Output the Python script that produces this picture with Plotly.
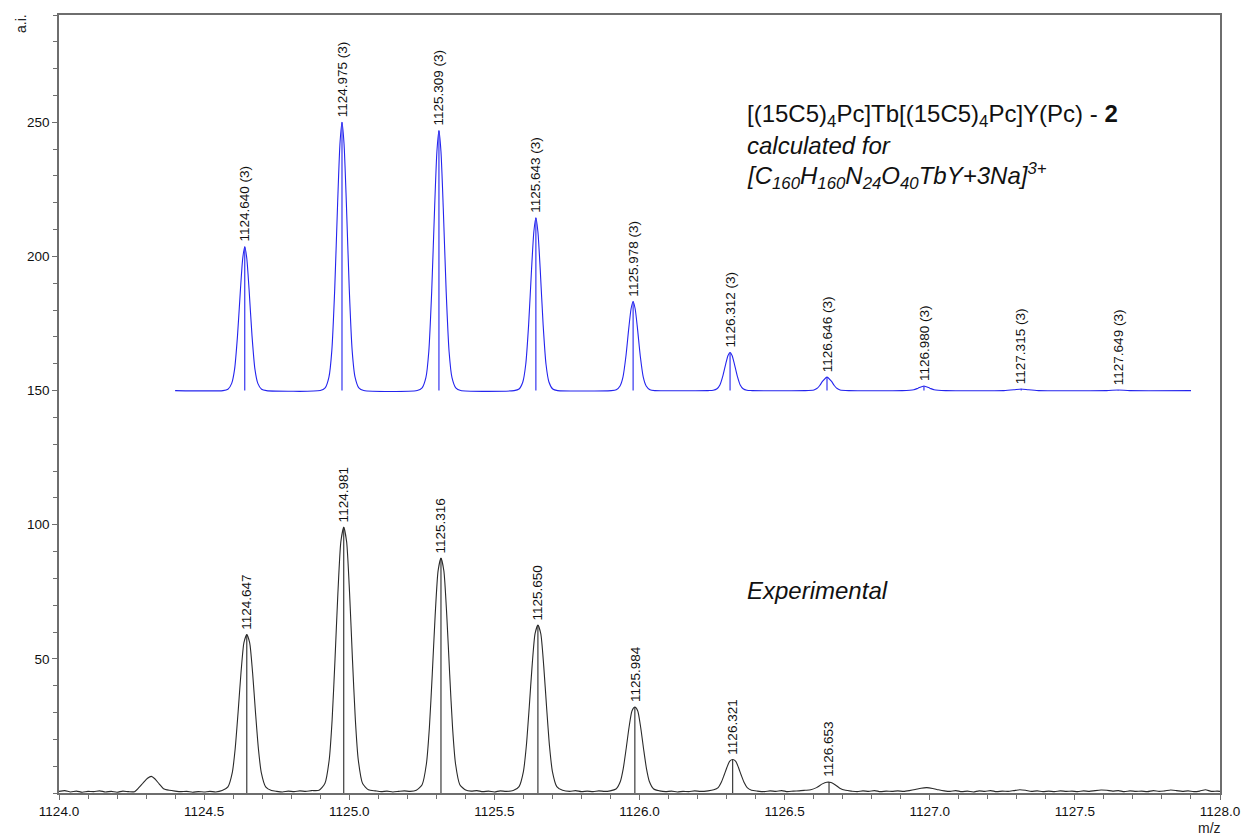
import plotly.graph_objects as go

# ---- calculated isotope pattern (offset by +150 a.i.) ----
calc_x = [
    1124.400, 1124.565, 1124.582, 1124.595, 1124.605, 1124.615, 1124.625, 1124.633, 1124.640,
    1124.647, 1124.655, 1124.665, 1124.675, 1124.685, 1124.698, 1124.715,
    1124.900, 1124.917, 1124.930, 1124.940, 1124.950, 1124.960, 1124.968, 1124.975,
    1124.982, 1124.990, 1125.000, 1125.010, 1125.020, 1125.033, 1125.050,
    1125.234, 1125.251, 1125.264, 1125.274, 1125.284, 1125.294, 1125.302, 1125.309,
    1125.316, 1125.324, 1125.334, 1125.344, 1125.354, 1125.367, 1125.384,
    1125.568, 1125.585, 1125.598, 1125.608, 1125.618, 1125.628, 1125.636, 1125.643,
    1125.650, 1125.658, 1125.668, 1125.678, 1125.688, 1125.701, 1125.718,
    1125.903, 1125.920, 1125.933, 1125.943, 1125.953, 1125.963, 1125.971, 1125.978,
    1125.985, 1125.993, 1126.003, 1126.013, 1126.023, 1126.036, 1126.053,
    1126.237, 1126.254, 1126.267, 1126.277, 1126.287, 1126.297, 1126.305, 1126.312,
    1126.319, 1126.327, 1126.337, 1126.347, 1126.357, 1126.370, 1126.387,
    1126.571, 1126.601, 1126.611, 1126.621, 1126.631, 1126.646,
    1126.661, 1126.671, 1126.681, 1126.691, 1126.721,
    1126.905, 1126.945, 1126.960, 1126.980, 1127.000, 1127.015, 1127.055,
    1127.255, 1127.290, 1127.315, 1127.340, 1127.375,
    1127.609, 1127.649, 1127.689, 1127.900,
]
calc_y = [
    150.0, 150.0, 150.5, 152.7, 158.0, 170.4, 187.5, 199.3, 203.6,
    199.3, 187.5, 170.4, 158.0, 152.7, 150.5, 150.0,
    150.0, 151.0, 155.0, 165.0, 188.0, 220.0, 242.0, 250.0,
    242.0, 220.0, 188.0, 165.0, 155.0, 151.0, 150.0,
    150.0, 151.0, 154.8, 164.5, 186.8, 217.8, 239.1, 246.9,
    239.1, 217.8, 186.8, 164.5, 154.8, 151.0, 150.0,
    150.0, 150.6, 153.2, 159.7, 174.5, 195.1, 209.2, 214.4,
    209.2, 195.1, 174.5, 159.7, 153.2, 150.6, 150.0,
    150.0, 150.3, 151.7, 155.0, 162.6, 173.2, 180.5, 183.2,
    180.5, 173.2, 162.6, 155.0, 151.7, 150.3, 150.0,
    150.0, 150.1, 150.7, 152.1, 155.4, 159.9, 163.1, 164.2,
    163.1, 159.9, 155.4, 152.1, 150.7, 150.1, 150.0,
    150.0, 150.25, 150.75, 151.9, 153.5, 155.0,
    153.5, 151.9, 150.75, 150.25, 150.0,
    150.0, 150.3, 150.9, 151.7, 150.9, 150.3, 150.0,
    150.0, 150.3, 150.6, 150.3, 150.0,
    150.0, 150.2, 150.0, 150.0,
]

# centroid list of the calculated pattern
calc_mz = [1124.640, 1124.975, 1125.309, 1125.643, 1125.978,
           1126.312, 1126.646, 1126.980, 1127.315, 1127.649]
calc_top = [203.6, 250.0, 246.9, 214.4, 183.2, 164.2, 155.0, 151.7, 150.6, 150.2]
calc_base = 150.0
calc_labels = ["1124.640 (3)", "1124.975 (3)", "1125.309 (3)", "1125.643 (3)",
               "1125.978 (3)", "1126.312 (3)", "1126.646 (3)", "1126.980 (3)",
               "1127.315 (3)", "1127.649 (3)"]

# ---- experimental profile ----
exp_x = [
    1124.00, 1124.02, 1124.04, 1124.06, 1124.08, 1124.10, 1124.12, 1124.14, 1124.16,
    1124.18, 1124.20, 1124.22, 1124.24,
    1124.26, 1124.275, 1124.29, 1124.305, 1124.318, 1124.33, 1124.345, 1124.36, 1124.38,
    1124.40, 1124.42, 1124.44, 1124.46, 1124.48, 1124.50, 1124.52, 1124.54,
    1124.562, 1124.582, 1124.597, 1124.607, 1124.617, 1124.627, 1124.637, 1124.647,
    1124.657, 1124.667, 1124.677, 1124.687, 1124.697, 1124.712, 1124.732,
    1124.75, 1124.77, 1124.79, 1124.81, 1124.83, 1124.85, 1124.87,
    1124.896, 1124.916, 1124.931, 1124.941, 1124.951, 1124.961, 1124.971, 1124.981,
    1124.991, 1125.001, 1125.011, 1125.021, 1125.031, 1125.046, 1125.066,
    1125.09, 1125.11, 1125.13, 1125.15, 1125.17, 1125.19, 1125.21,
    1125.231, 1125.251, 1125.266, 1125.276, 1125.286, 1125.296, 1125.306, 1125.316,
    1125.326, 1125.336, 1125.346, 1125.356, 1125.366, 1125.381, 1125.401,
    1125.42, 1125.44, 1125.46, 1125.48, 1125.50, 1125.52, 1125.54,
    1125.565, 1125.585, 1125.600, 1125.610, 1125.620, 1125.630, 1125.640, 1125.650,
    1125.660, 1125.670, 1125.680, 1125.690, 1125.700, 1125.715, 1125.735,
    1125.76, 1125.78, 1125.80, 1125.82, 1125.84, 1125.86, 1125.88,
    1125.899, 1125.919, 1125.934, 1125.944, 1125.954, 1125.964, 1125.974, 1125.984,
    1125.994, 1126.004, 1126.014, 1126.024, 1126.034, 1126.049, 1126.069,
    1126.09, 1126.11, 1126.13, 1126.15, 1126.17, 1126.19, 1126.21,
    1126.236, 1126.256, 1126.271, 1126.281, 1126.291, 1126.301, 1126.311, 1126.321,
    1126.331, 1126.341, 1126.351, 1126.361, 1126.371, 1126.386, 1126.406,
    1126.43, 1126.45, 1126.47, 1126.49, 1126.51, 1126.53, 1126.55, 1126.57,
    1126.59, 1126.61, 1126.63, 1126.645, 1126.66, 1126.675, 1126.69, 1126.71, 1126.73,
    1126.75, 1126.77, 1126.79, 1126.81, 1126.83, 1126.85, 1126.87, 1126.89, 1126.91, 1126.93,
    1126.95, 1126.97, 1126.99, 1127.01, 1127.03, 1127.05,
    1127.07, 1127.09, 1127.11, 1127.13, 1127.15, 1127.17, 1127.19, 1127.21, 1127.23,
    1127.25, 1127.27, 1127.29, 1127.31, 1127.33, 1127.35, 1127.37, 1127.39, 1127.41,
    1127.43, 1127.45, 1127.47, 1127.49, 1127.51, 1127.53, 1127.55, 1127.57, 1127.59,
    1127.61, 1127.63, 1127.65, 1127.67, 1127.69, 1127.71, 1127.73, 1127.75, 1127.77,
    1127.79, 1127.81, 1127.83, 1127.85, 1127.87, 1127.89, 1127.91, 1127.93, 1127.95,
    1127.97, 1127.99, 1128.00,
]
exp_y = [
    0.6, 0.9, 0.4, 0.7, 0.3, 0.6, 0.5, 0.8, 0.4,
    0.6, 0.3, 0.7, 0.5,
    0.5, 2.0, 3.8, 5.5, 6.2, 5.3, 3.4, 1.6, 1.0,
    0.7, 0.5, 0.6, 0.3, 0.5, 0.4, 0.6, 0.4,
    0.9, 2.3, 7.6, 16.5, 30.0, 44.8, 56.0, 59.1,
    56.0, 44.8, 30.0, 16.5, 7.6, 2.3, 0.9,
    0.6, 0.4, 0.7, 0.5, 0.8, 0.6, 0.9,
    1.0, 3.5, 12.4, 27.3, 50.0, 74.8, 93.6, 99.1,
    93.6, 74.8, 50.0, 27.3, 12.4, 3.5, 1.2,
    0.8, 0.5, 0.7, 0.4, 0.6, 0.8, 0.6,
    1.0, 3.1, 11.0, 24.2, 44.3, 66.2, 82.8, 87.6,
    82.8, 66.2, 44.3, 24.2, 11.0, 3.1, 1.1,
    0.7, 0.9, 0.5, 0.7, 0.4, 0.8, 0.6,
    0.9, 2.4, 8.0, 17.4, 31.8, 47.4, 59.3, 62.6,
    59.3, 47.4, 31.8, 17.4, 8.0, 2.4, 1.0,
    0.6, 0.9, 0.5, 0.7, 0.5, 0.8, 0.6,
    0.8, 1.5, 4.3, 9.1, 16.5, 24.5, 30.6, 32.0,
    30.6, 24.5, 16.5, 9.1, 4.3, 1.5, 0.8,
    0.5, 0.7, 0.4, 0.6, 0.5, 0.8, 0.6,
    0.8, 1.2, 2.0, 3.8, 6.5, 9.5, 11.9, 12.5,
    11.9, 9.5, 6.5, 3.8, 2.0, 1.0, 0.7,
    0.5, 0.8, 0.6, 0.9, 0.5, 0.7, 0.8, 1.0,
    1.2, 2.0, 3.4, 4.0, 3.9, 3.0, 1.8, 1.0, 0.7,
    0.5, 0.8, 0.6, 0.9, 0.5, 0.7, 0.6, 0.8, 0.6, 0.9,
    1.3, 1.8, 2.0, 1.7, 1.2, 0.8,
    0.6, 0.9, 0.5, 0.7, 0.4, 0.8, 0.6, 0.9, 0.5,
    0.7, 0.6, 0.9, 1.2, 1.0, 0.6, 0.8, 0.5, 0.7,
    0.5, 0.8, 0.6, 0.7, 0.5, 0.8, 0.6, 0.9, 1.1,
    1.0, 0.7, 0.9, 0.5, 0.8, 0.6, 0.7, 0.5, 0.9,
    0.6, 0.8, 1.1, 0.9, 0.6, 0.8, 0.5, 0.7, 1.2,
    0.6, 0.7, 0.6,
]

# experimental centroids
exp_mz = [1124.647, 1124.981, 1125.316, 1125.650, 1125.984, 1126.321, 1126.653]
exp_top = [59.1, 99.1, 87.6, 62.6, 32.0, 12.5, 4.0]
exp_labels = ["1124.647", "1124.981", "1125.316", "1125.650",
              "1125.984", "1126.321", "1126.653"]

x_range = [1124.0, 1128.0]
y_range = [0, 290]
x_ticks = [1124.0, 1124.5, 1125.0, 1125.5, 1126.0, 1126.5, 1127.0, 1127.5, 1128.0]
y_ticks = [50, 100, 150, 200, 250]

FONT = "Arial, Liberation Sans, sans-serif"
BLUE = "#2424ee"
DARK = "#2a2a2a"
AXIS = "#6e6e6e"


def stick_coords(xs, tops, base):
    sx, sy = [], []
    for x, t in zip(xs, tops):
        sx += [x, x, None]
        sy += [base, t, None]
    return sx, sy


fig = go.Figure()

fig.add_trace(go.Scatter(x=calc_x, y=calc_y, mode="lines",
                         line=dict(color=BLUE, width=1.1, shape="spline", smoothing=0.6),
                         hoverinfo="skip", showlegend=False))
sx, sy = stick_coords(calc_mz, calc_top, calc_base)
fig.add_trace(go.Scatter(x=sx, y=sy, mode="lines", line=dict(color=BLUE, width=1.1),
                         hoverinfo="skip", showlegend=False))

fig.add_trace(go.Scatter(x=exp_x, y=exp_y, mode="lines",
                         line=dict(color=DARK, width=1.1, shape="spline", smoothing=0.6),
                         hoverinfo="skip", showlegend=False))
sx, sy = stick_coords(exp_mz, exp_top, 0)
fig.add_trace(go.Scatter(x=sx, y=sy, mode="lines", line=dict(color=DARK, width=1.1),
                         hoverinfo="skip", showlegend=False))

label_font = dict(family=FONT, size=13.5, color="#111111")
annotations = []
for x, t, lab in zip(calc_mz, calc_top, calc_labels):
    annotations.append(dict(x=x, y=t, xref="x", yref="y", text=lab, showarrow=False,
                            textangle=-90, xanchor="center", yanchor="bottom", yshift=3,
                            font=label_font))
for x, t, lab in zip(exp_mz, exp_top, exp_labels):
    annotations.append(dict(x=x, y=t, xref="x", yref="y", text=lab, showarrow=False,
                            textangle=-90, xanchor="center", yanchor="bottom", yshift=3,
                            font=label_font))

title_font = dict(family=FONT, size=24, color="#111111")
annotations += [
    dict(x=1126.362, y=252.5, xref="x", yref="y", xanchor="left", yanchor="middle",
         showarrow=False, font=title_font,
         text="[(15C5)<sub>4</sub>Pc]Tb[(15C5)<sub>4</sub>Pc]Y(Pc) - <b>2</b>"),
    dict(x=1126.362, y=241.5, xref="x", yref="y", xanchor="left", yanchor="middle",
         showarrow=False, font=title_font, text="<i>calculated for</i>"),
    dict(x=1126.362, y=230.0, xref="x", yref="y", xanchor="left", yanchor="middle",
         showarrow=False, font=title_font,
         text="<i>[C<sub>160</sub>H<sub>160</sub>N<sub>24</sub>O<sub>40</sub>TbY+3Na]<sup>3+</sup></i>"),
    dict(x=1126.362, y=75.3, xref="x", yref="y", xanchor="left", yanchor="middle",
         showarrow=False, font=title_font, text="<i>Experimental</i>"),
    # axis captions in the margins
    dict(x=0, y=1, xref="paper", yref="paper", xanchor="center", yanchor="middle",
         xshift=-38, yshift=-9, showarrow=False, textangle=-90, text="a.i.",
         font=dict(family=FONT, size=14, color="#222222")),
    dict(x=1.0, y=0, xref="paper", yref="paper", xanchor="center", yanchor="middle",
         xshift=-11, yshift=-35, showarrow=False, text="m/z",
         font=dict(family=FONT, size=14, color="#222222")),
]

fig.update_layout(
    width=1252, height=836,
    margin=dict(l=59, r=26, t=15, b=43),
    paper_bgcolor="white", plot_bgcolor="white",
    font=dict(family=FONT, size=13.5, color="#111111"),
    annotations=annotations,
    showlegend=False,
)
fig.update_xaxes(range=x_range, tickvals=x_ticks, ticktext=[f"{v:.1f}" for v in x_ticks],
                 showgrid=False, zeroline=False, showline=True, linecolor=AXIS,
                 linewidth=1.5, mirror=True, ticks="outside", ticklen=5, tickcolor=AXIS,
                 tickfont=dict(size=13.5),
                 minor=dict(dtick=0.1, tick0=1124.0, ticks="outside", ticklen=4,
                            tickcolor=AXIS))
fig.update_yaxes(range=y_range, tickvals=y_ticks, showgrid=False, zeroline=False,
                 showline=True, linecolor=AXIS, linewidth=1.5, mirror=True,
                 ticks="outside", ticklen=5, tickcolor=AXIS, tickfont=dict(size=13.5),
                 minor=dict(dtick=10, tick0=0, ticks="outside", ticklen=4,
                            tickcolor=AXIS))

fig.write_html("out.html")
